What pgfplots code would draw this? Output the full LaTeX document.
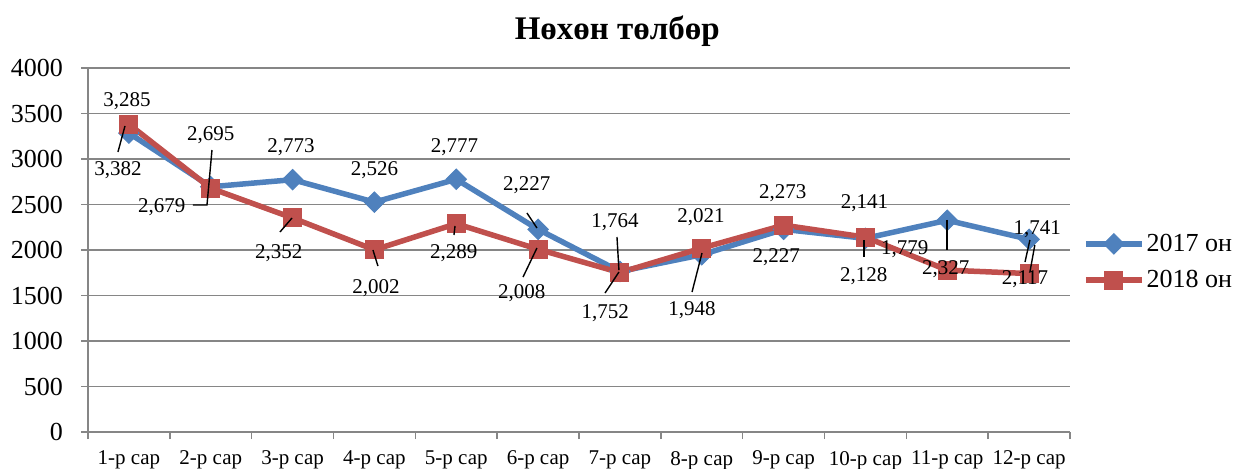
\documentclass[border=0pt]{standalone}
\usepackage{fontspec}
\setmainfont{Liberation Serif}
\usepackage{pgfplots}
\pgfplotsset{compat=1.18}
\definecolor{cblue}{HTML}{4F81BD}
\definecolor{cred}{HTML}{C0504D}
\definecolor{cgrid}{HTML}{868686}
\begin{document}
\begin{tikzpicture}
\begin{axis}[
  name=ax,
  set layers=standard,
  scale only axis,
  width=491pt, height=182pt,
  xmin=0.5, xmax=12.5, ymin=0, ymax=4000,
  axis lines*=left,
  axis line style={cgrid, line width=0.7pt, -},
  ytick={0,500,...,4000},
  xtick={1,...,12},
  xticklabels={1-р сар,2-р сар,3-р сар,4-р сар,5-р сар,6-р сар,7-р сар,8-р сар,9-р сар,10-р сар,11-р сар,12-р сар},
  minor xtick={0.5,1.5,...,12.5},
  tick align=outside,
  x tick style={draw=none},
  minor x tick style={draw=cgrid, line width=0.7pt},
  y tick style={draw=cgrid, line width=0.7pt},
  major tick length=3.5pt, minor tick length=3.5pt,
  ymajorgrids,
  grid style={cgrid, line width=0.7pt},
  /pgf/number format/assume math mode=true,
  /pgf/number format/1000 sep={},
  yticklabel style={font=\fontsize{13}{15}\selectfont, xshift=-5.5pt},
  xticklabel style={font=\fontsize{10.5}{12}\selectfont, yshift=-2.5pt},
  title={\textbf{Нөхөн төлбөр}},
  title style={at={(0.539,1)}, anchor=center, yshift=12.5pt, font=\fontsize{16.5}{19}\selectfont},
  legend style={at={(1.013,0.467)}, anchor=west, draw=none, fill=none,
    font=\fontsize{13}{15}\selectfont, row sep=6pt, inner sep=0pt,
    nodes={inner sep=1pt}},
  legend cell align=left,
  legend image code/.code={\draw[mark repeat=2,mark phase=2,#1] plot coordinates {(0pt,0pt) (14pt,0pt) (28pt,0pt)};},
]
\addplot[color=cblue, line width=2.75pt, mark=square*, mark size=3.6pt, mark options={rotate=45, solid, line width=0.5pt}]
  coordinates {(1,3285) (2,2695) (3,2773) (4,2526) (5,2777) (6,2227) (7,1764) (8,1948) (9,2227) (10,2128) (11,2327) (12,2117)};
\addlegendentry{2017 он}
\addplot[color=cred, line width=2.75pt, mark=square*, mark size=4.5pt, mark options={solid, line width=0.5pt}]
  coordinates {(1,3382) (2,2679) (3,2352) (4,2002) (5,2289) (6,2008) (7,1752) (8,2021) (9,2273) (10,2141) (11,1779) (12,1741)};
\addlegendentry{2018 он}
% data labels
\begin{pgfonlayer}{axis foreground}
\begin{scope}[every node/.style={font=\fontsize{10.5}{12}\selectfont, inner sep=0pt}]
\node at (axis cs:0.976,3637) {3,285};
\node at (axis cs:0.866,2879) {3,382};
\node at (axis cs:2.0,3264) {2,695};
\node at (axis cs:1.40,2473) {2,679};
\node at (axis cs:2.98,3132) {2,773};
\node at (axis cs:2.83,1967) {2,352};
\node at (axis cs:4.0,2879) {2,526};
\node at (axis cs:4.02,1582) {2,002};
\node at (axis cs:4.98,3132) {2,777};
\node at (axis cs:4.97,1967) {2,289};
\node at (axis cs:5.86,2714) {2,227};
\node at (axis cs:5.80,1527) {2,008};
\node at (axis cs:6.94,2308) {1,764};
\node at (axis cs:6.82,1308) {1,752};
\node at (axis cs:7.99,2363) {2,021};
\node at (axis cs:7.88,1341) {1,948};
\node at (axis cs:8.99,2626) {2,273};
\node at (axis cs:8.91,1923) {2,227};
\node at (axis cs:9.99,2516) {2,141};
\node at (axis cs:9.98,1714) {2,128};
\node at (axis cs:10.48,2011) {1,779};
\node at (axis cs:10.98,1791) {2,327};
\node at (axis cs:12.1,2231) {1,741};
\node at (axis cs:11.95,1681) {2,117};
\end{scope}
\begin{scope}[black, line width=0.7pt]
\draw (axis cs:0.866,3077) -- (axis cs:0.952,3363);
\draw (axis cs:1.783,2495) -- (axis cs:1.954,2495) -- (axis cs:2.015,3099);
\draw (axis cs:2.846,2198) -- (axis cs:2.993,2352);
\draw (axis cs:3.982,2000) -- (axis cs:4.043,1824);
\draw (axis cs:4.985,2264) -- (axis cs:4.972,2165);
\draw (axis cs:5.864,2407) -- (axis cs:5.986,2242);
\draw (axis cs:5.816,1703) -- (axis cs:5.986,2022);
\draw (axis cs:6.964,2143) -- (axis cs:6.988,1780);
\draw (axis cs:6.818,1527) -- (axis cs:6.988,1758);
\draw (axis cs:7.881,1538) -- (axis cs:8.003,1967);
\draw (axis cs:9.983,2110) -- (axis cs:9.983,1923);
\draw (axis cs:10.997,2330) -- (axis cs:10.997,2000);
\draw (axis cs:12.01,2110) -- (axis cs:11.95,1868);
\draw (axis cs:12.07,2055) -- (axis cs:12.01,1758);
\end{scope}
\end{pgfonlayer}
\end{axis}
\pgfresetboundingbox
\path ([shift={(-44pt,-18pt)}]ax.south west) rectangle ++(617.5pt,234pt);
\end{tikzpicture}
\end{document}
